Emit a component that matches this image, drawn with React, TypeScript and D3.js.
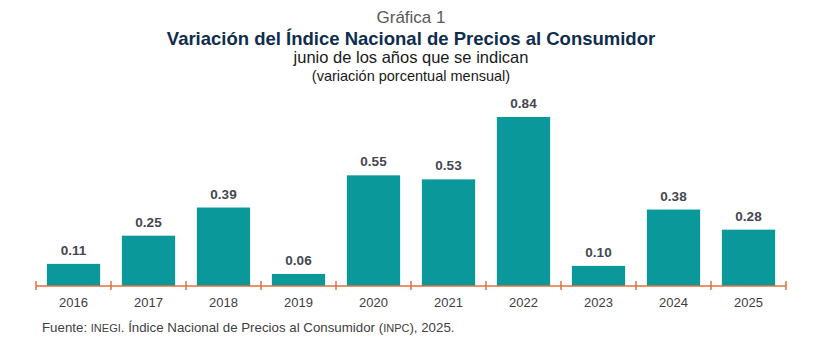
import React from "react";
import * as d3 from "d3";

const years = ["2016", "2017", "2018", "2019", "2020", "2021", "2022", "2023", "2024", "2025"];
const values = [0.11, 0.25, 0.39, 0.06, 0.55, 0.53, 0.84, 0.1, 0.38, 0.28];

const W = 813;
const H = 364;
const FONT = "'Liberation Sans', Arial, sans-serif";
const axisY = 286;

export default function App() {
  const x = d3.scaleBand<string>().domain(years).range([36, 786]).paddingInner(0.29).paddingOuter(0.145);
  const band = d3.scaleBand<string>().domain(years).range([36, 786]);
  const y = d3.scaleLinear().domain([0, 0.84]).range([axisY, 117]);
  const tickXs = years.map((yr) => band(yr)!).concat([786]);

  return (
    <svg
      width={W}
      height={H}
      style={{ position: "absolute", left: 0, top: 0, background: "#fff" }}
      fontFamily={FONT}
    >
      <rect width={W} height={H} fill="#fff" />
      <text x={411} y={23} textAnchor="middle" fontSize={17} fill="#595959">Gráfica 1</text>
      <text x={411} y={45} textAnchor="middle" fontSize={18.5} fontWeight="bold" fill="#0f2d4f">
        Variación del Índice Nacional de Precios al Consumidor
      </text>
      <text x={411} y={63} textAnchor="middle" fontSize={16.5} fill="#1a1a1a">junio de los años que se indican</text>
      <text x={411} y={81} textAnchor="middle" fontSize={14.5} fill="#1a1a1a">(variación porcentual mensual)</text>

      {years.map((yr, i) => (
        <g key={yr}>
          <rect x={x(yr)} y={y(values[i])} width={x.bandwidth()} height={axisY - y(values[i])} fill="#0a989b" />
          <text
            x={x(yr)! + x.bandwidth() / 2}
            y={y(values[i]) - 9}
            textAnchor="middle"
            fontSize={13.5}
            fontWeight="bold"
            fill="#44474f"
          >
            {values[i].toFixed(2)}
          </text>
          <text x={band(yr)! + band.bandwidth() / 2} y={307} textAnchor="middle" fontSize={13} fill="#404040">
            {yr}
          </text>
        </g>
      ))}

      <line x1={36} x2={786} y1={axisY} y2={axisY} stroke="#e2703f" strokeWidth={1.5} />
      {tickXs.map((tx, i) => (
        <line key={i} x1={tx} x2={tx} y1={axisY - 5} y2={axisY + 4} stroke="#e2703f" strokeWidth={1.5} />
      ))}

      <text x={42} y={332} fontSize={13.3} fill="#404040">
        Fuente: <tspan fontSize={11}>INEGI</tspan>. Índice Nacional de Precios al Consumidor (<tspan fontSize={11}>INPC</tspan>), 2025.
      </text>
    </svg>
  );
}
